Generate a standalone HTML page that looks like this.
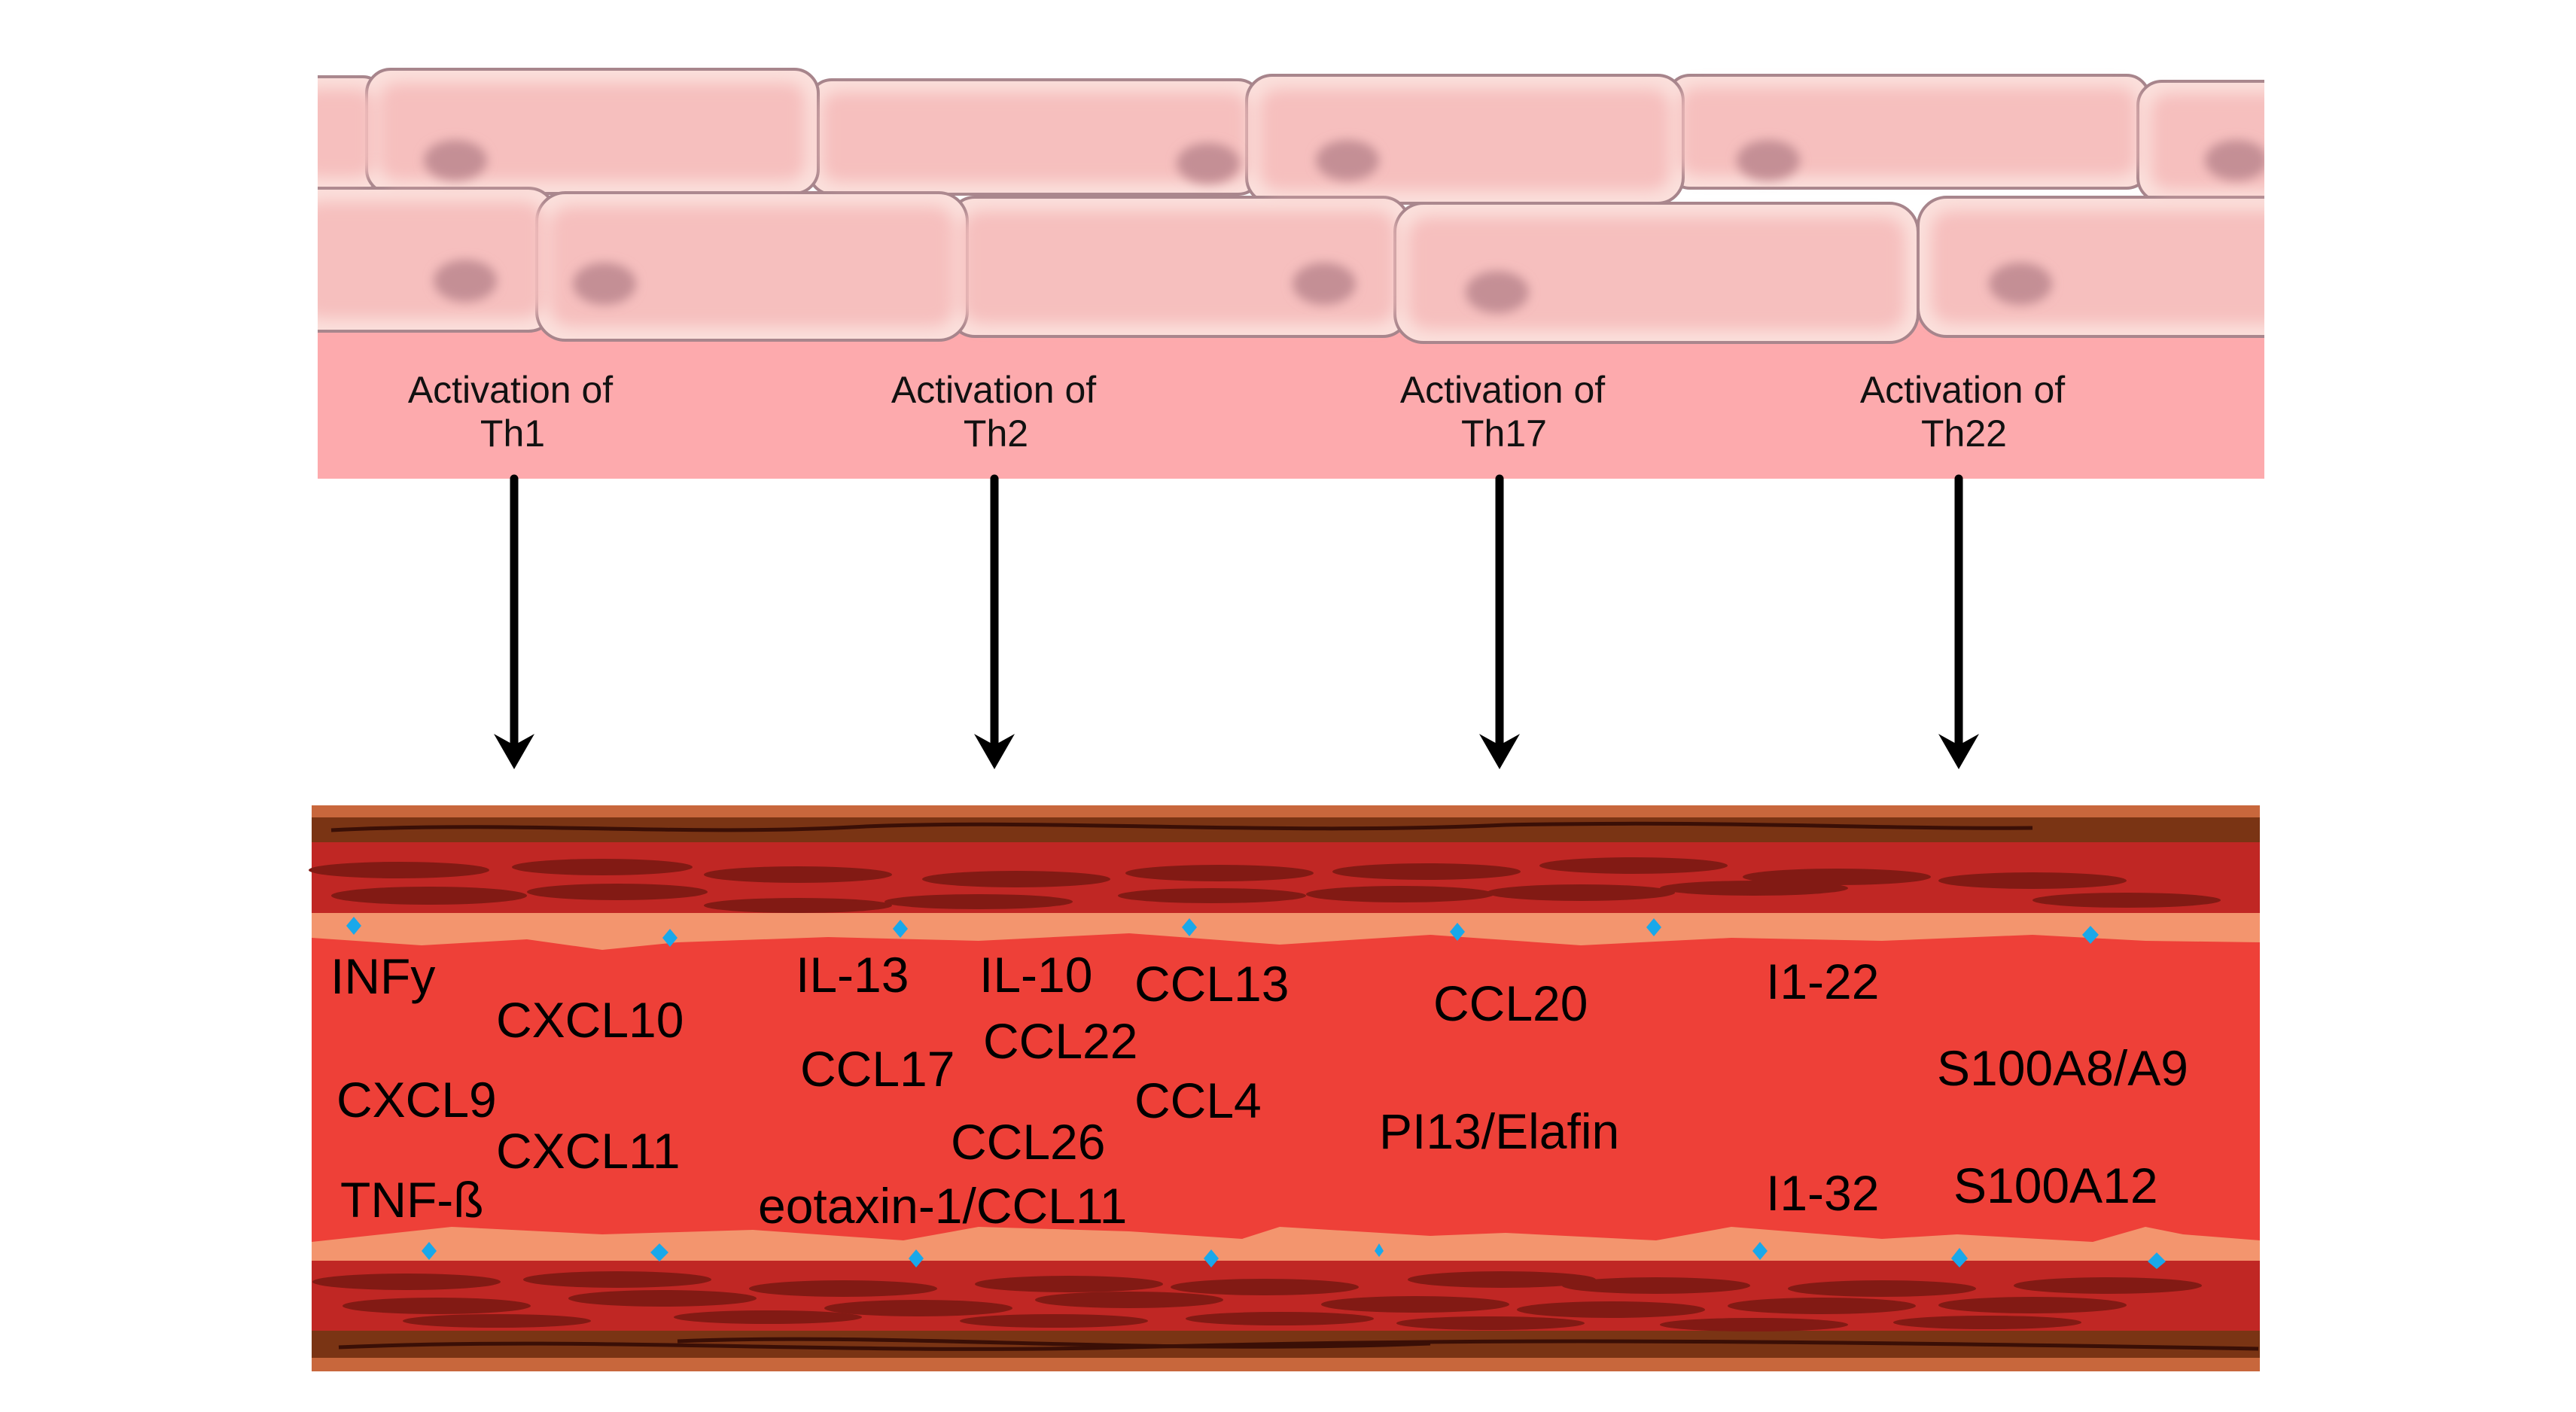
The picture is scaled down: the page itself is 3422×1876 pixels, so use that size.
<!DOCTYPE html>
<html><head><meta charset="utf-8"><style>
html,body{margin:0;padding:0;background:#fff;}
svg{display:block;}
text{font-family:"Liberation Sans",sans-serif;}
</style></head><body>
<svg width="3422" height="1876" viewBox="0 0 3422 1876" xmlns="http://www.w3.org/2000/svg">
<defs>
<clipPath id="tc"><rect x="422" y="0" width="2586" height="640"/></clipPath>
<filter id="bl" x="-20%" y="-20%" width="140%" height="140%"><feGaussianBlur stdDeviation="10"/></filter>
<filter id="nb" x="-50%" y="-50%" width="200%" height="200%"><feGaussianBlur stdDeviation="7"/></filter>
</defs>
<rect width="3422" height="1876" fill="#fff"/>

<!-- Tissue -->
<g clip-path="url(#tc)">
<rect x="422" y="400" width="2586" height="236" fill="#fdaaad"/>
<g stroke="#a6848b" stroke-width="4">
<rect x="380" y="102" width="130" height="150" rx="28" fill="#fbe0dc"/>
<rect x="1075" y="106" width="600" height="152" rx="30" fill="#fbe0dc"/>
<rect x="2215" y="100" width="640" height="150" rx="30" fill="#fbe0dc"/>
<rect x="487" y="92" width="600" height="165" rx="32" fill="#fbe0dc"/>
<rect x="1656" y="100" width="580" height="170" rx="34" fill="#fbe0dc"/>
<rect x="2840" y="108" width="220" height="160" rx="32" fill="#fbe0dc"/>
<rect x="380" y="250" width="358" height="190" rx="36" fill="#fbe0dc"/>
<rect x="1261" y="262" width="610" height="185" rx="34" fill="#fbe0dc"/>
<rect x="713" y="256" width="572" height="196" rx="38" fill="#fbe0dc"/>
<rect x="1853" y="270" width="695" height="185" rx="38" fill="#fbe0dc"/>
<rect x="2548" y="262" width="520" height="185" rx="38" fill="#fbe0dc"/>
</g>
<g fill="#f6bfbe" filter="url(#bl)">
<rect x="400" y="118" width="96" height="118" rx="20"/>
<rect x="1092" y="122" width="566" height="120" rx="22"/>
<rect x="2232" y="116" width="606" height="118" rx="22"/>
<rect x="504" y="110" width="566" height="130" rx="24"/>
<rect x="1673" y="118" width="546" height="135" rx="26"/>
<rect x="2857" y="124" width="190" height="128" rx="24"/>
<rect x="400" y="268" width="322" height="155" rx="26"/>
<rect x="1278" y="280" width="576" height="150" rx="26"/>
<rect x="730" y="274" width="538" height="160" rx="28"/>
<rect x="1870" y="288" width="661" height="150" rx="28"/>
<rect x="2565" y="280" width="486" height="150" rx="28"/>
</g>
<g fill="#c48f95" filter="url(#nb)">
<ellipse cx="605" cy="213" rx="42" ry="27"/>
<ellipse cx="1605" cy="217" rx="42" ry="27"/>
<ellipse cx="1790" cy="213" rx="42" ry="27"/>
<ellipse cx="2349" cy="213" rx="42" ry="27"/>
<ellipse cx="2971" cy="213" rx="42" ry="27"/>
<ellipse cx="618" cy="373" rx="42" ry="28"/>
<ellipse cx="803" cy="377" rx="42" ry="28"/>
<ellipse cx="1759" cy="377" rx="42" ry="28"/>
<ellipse cx="1989" cy="388" rx="42" ry="28"/>
<ellipse cx="2684" cy="377" rx="42" ry="28"/>
</g>
</g>

<g font-size="50" fill="#111" text-anchor="middle">
<text x="678" y="535">Activation of</text><text x="681" y="593">Th1</text>
<text x="1320" y="535">Activation of</text><text x="1323" y="593">Th2</text>
<text x="1996" y="535">Activation of</text><text x="1998" y="593">Th17</text>
<text x="2607" y="535">Activation of</text><text x="2609" y="593">Th22</text>
</g>

<!-- arrows -->
<g stroke="#000" stroke-width="11" stroke-linecap="round">
<line x1="683" y1="636" x2="683" y2="990"/>
<line x1="1321" y1="636" x2="1321" y2="990"/>
<line x1="1992" y1="636" x2="1992" y2="990"/>
<line x1="2602" y1="636" x2="2602" y2="990"/>
</g>
<g fill="#000">
<path d="M656 975 L683 1022 L710 975 L683 990 Z"/>
<path d="M1294 975 L1321 1022 L1348 975 L1321 990 Z"/>
<path d="M1965 975 L1992 1022 L2019 975 L1992 990 Z"/>
<path d="M2575 975 L2602 1022 L2629 975 L2602 990 Z"/>
</g>

<!-- vessel -->
<rect x="414" y="1070" width="2588" height="752" fill="#c8673c"/>
<rect x="414" y="1086" width="2588" height="718" fill="#7a3414"/>
<g stroke="#3a0f06" stroke-width="5" fill="none">
<path d="M440 1103 C700 1090 900 1112 1150 1098 C1400 1088 1700 1110 2000 1096 C2300 1090 2500 1102 2700 1100"/>
<path d="M450 1790 C800 1775 1100 1800 1500 1790 C1900 1780 2200 1778 3000 1792"/>
<path d="M900 1782 C1200 1770 1500 1800 1900 1785"/>
</g>
<rect x="414" y="1119" width="2588" height="649" fill="#c02724"/>
<g fill="#821a14">
<ellipse cx="530" cy="1156" rx="120" ry="11"/><ellipse cx="800" cy="1152" rx="120" ry="11"/><ellipse cx="1060" cy="1162" rx="125" ry="11"/><ellipse cx="1350" cy="1168" rx="125" ry="11"/><ellipse cx="1620" cy="1160" rx="125" ry="11"/><ellipse cx="1895" cy="1158" rx="125" ry="11"/><ellipse cx="2170" cy="1150" rx="125" ry="11"/><ellipse cx="2440" cy="1165" rx="125" ry="11"/><ellipse cx="2700" cy="1170" rx="125" ry="11"/>
<ellipse cx="570" cy="1190" rx="130" ry="12"/><ellipse cx="820" cy="1185" rx="120" ry="11"/><ellipse cx="1060" cy="1203" rx="125" ry="10"/><ellipse cx="1300" cy="1198" rx="125" ry="10"/><ellipse cx="1610" cy="1190" rx="125" ry="10"/><ellipse cx="1860" cy="1188" rx="125" ry="11"/><ellipse cx="2100" cy="1186" rx="125" ry="11"/><ellipse cx="2330" cy="1180" rx="125" ry="10"/><ellipse cx="2825" cy="1196" rx="125" ry="10"/>
<ellipse cx="540" cy="1703" rx="125" ry="11"/><ellipse cx="820" cy="1700" rx="125" ry="11"/><ellipse cx="1120" cy="1712" rx="125" ry="11"/><ellipse cx="1420" cy="1706" rx="125" ry="11"/><ellipse cx="1680" cy="1710" rx="125" ry="11"/><ellipse cx="1995" cy="1700" rx="125" ry="11"/><ellipse cx="2200" cy="1708" rx="125" ry="11"/><ellipse cx="2500" cy="1712" rx="125" ry="11"/><ellipse cx="2800" cy="1708" rx="125" ry="11"/>
<ellipse cx="580" cy="1735" rx="125" ry="11"/><ellipse cx="880" cy="1725" rx="125" ry="11"/><ellipse cx="1220" cy="1738" rx="125" ry="11"/><ellipse cx="1500" cy="1727" rx="125" ry="11"/><ellipse cx="1880" cy="1733" rx="125" ry="11"/><ellipse cx="2140" cy="1740" rx="125" ry="11"/><ellipse cx="2420" cy="1735" rx="125" ry="11"/><ellipse cx="2700" cy="1734" rx="125" ry="11"/>
<ellipse cx="660" cy="1755" rx="125" ry="9"/><ellipse cx="1020" cy="1750" rx="125" ry="9"/><ellipse cx="1400" cy="1755" rx="125" ry="9"/><ellipse cx="1700" cy="1752" rx="125" ry="9"/><ellipse cx="1980" cy="1758" rx="125" ry="9"/><ellipse cx="2330" cy="1760" rx="125" ry="9"/><ellipse cx="2640" cy="1757" rx="125" ry="9"/>
</g>
<!-- peach layers + lumen -->
<rect x="414" y="1213" width="2588" height="462" fill="#f3956e"/>
<path d="M414 1246 L560 1256 L700 1248 L800 1262 L900 1252 L1100 1245 L1300 1250 L1500 1240 L1700 1255 L1900 1242 L2100 1256 L2300 1246 L2500 1250 L2700 1242 L2850 1250 L3002 1252 L3002 1648 L2900 1640 L2850 1630 L2780 1650 L2600 1640 L2500 1646 L2300 1630 L2200 1648 L2000 1638 L1900 1642 L1700 1630 L1650 1646 L1500 1636 L1300 1630 L1200 1648 L1000 1634 L800 1640 L600 1630 L414 1650 Z" fill="#ee4038"/>
<g fill="#19a8ea">
<path d="M470 1218 l10 12 l-10 12 l-10 -12z"/><path d="M890 1234 l10 12 l-10 12 l-10 -12z"/><path d="M1196 1222 l10 12 l-10 12 l-10 -12z"/><path d="M1580 1220 l10 12 l-10 12 l-10 -12z"/><path d="M1936 1226 l10 12 l-10 12 l-10 -12z"/><path d="M2197 1220 l10 12 l-10 12 l-10 -12z"/><path d="M2777 1230 l11 12 l-11 12 l-11 -12z"/>
<path d="M570 1650 l10 12 l-10 12 l-10 -12z"/><path d="M876 1652 l12 12 l-12 12 l-12 -12z"/><path d="M1217 1660 l10 12 l-10 12 l-10 -12z"/><path d="M1609 1660 l10 12 l-10 12 l-10 -12z"/><path d="M1832 1652 l6 10 l-6 8 l-6 -8z"/><path d="M2338 1650 l10 12 l-10 12 l-10 -12z"/><path d="M2603 1658 l11 14 l-11 12 l-11 -12z"/><path d="M2865 1664 l12 12 l-12 10 l-12 -10z"/>
</g>

<g font-size="66" fill="#000">
<text x="439" y="1320">INFy</text>
<text x="659" y="1378">CXCL10</text>
<text x="447" y="1484">CXCL9</text>
<text x="659" y="1552">CXCL11</text>
<text x="452" y="1617">TNF-ß</text>
<text x="1057" y="1318">IL-13</text>
<text x="1301" y="1318">IL-10</text>
<text x="1507" y="1330">CCL13</text>
<text x="1063" y="1443">CCL17</text>
<text x="1306" y="1406">CCL22</text>
<text x="1507" y="1485">CCL4</text>
<text x="1263" y="1540">CCL26</text>
<text x="1007" y="1625">eotaxin-1/CCL11</text>
<text x="1904" y="1356">CCL20</text>
<text x="1832" y="1526">PI13/Elafin</text>
<text x="2346" y="1327">I1-22</text>
<text x="2573" y="1442">S100A8/A9</text>
<text x="2346" y="1608">I1-32</text>
<text x="2595" y="1598">S100A12</text>
</g>
</svg>
</body></html>
